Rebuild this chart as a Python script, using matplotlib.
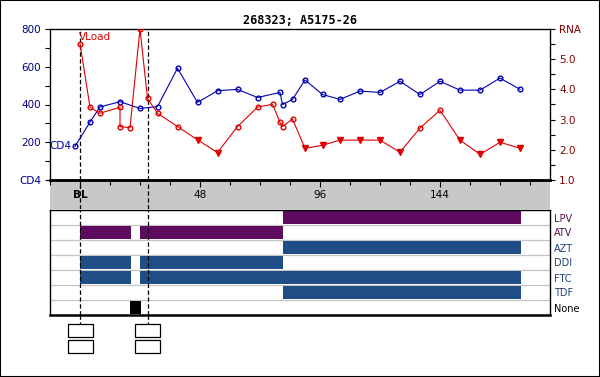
import matplotlib
matplotlib.use("Agg")
import matplotlib.pyplot as plt
from matplotlib.patches import Rectangle
from matplotlib.ticker import MultipleLocator, FixedLocator

plt.rcParams['font.family'] = ['DejaVu Sans']

title = "268323; A5175-26"

# CD4 counts (weeks, cells/uL)
cd4_weeks = [-2, 4, 8, 16, 24, 31, 39, 47, 55, 63, 71, 80, 81, 85, 90, 97, 104,
             112, 120, 128, 136, 144, 152, 160, 168, 176]
cd4_vals = [178, 307, 387, 415, 379, 389, 592, 411, 473, 480, 437, 464, 400, 427,
            530, 453, 427, 471, 464, 523, 453, 523, 476, 476, 540, 480]

# Viral load (log10 RNA)
rna_weeks = [0, 4, 8, 16, 16, 20, 24, 27, 31, 39, 47, 55, 63, 71, 77, 80, 81, 85,
             90, 97, 104, 112, 120, 128, 136, 144, 152, 160, 168, 176]
rna_vals = [5.51, 3.41, 3.21, 3.41, 2.77, 2.73, 6.0, 3.70, 3.21, 2.77, 2.33, 1.91,
            2.77, 3.41, 3.51, 2.91, 2.77, 3.02, 2.05, 2.15, 2.32, 2.32, 2.32, 1.92,
            2.72, 3.31, 2.32, 1.85, 2.25, 2.05]
rna_detect = [True, True, True, True, True, True, True, True, True, True, False, False,
              True, True, True, True, True, True, False, False, False, False, False, False,
              True, True, False, False, False, False]

x_tick_vals = [0, 48, 96, 144]
x_tick_labels = ["BL", "48", "96", "144"]
cd4_ticks = [0, 200, 400, 600, 800]
cd4_tick_labels = ["CD4", "200", "400", "600", "800"]
rna_ticks = [1, 2, 3, 4, 5, 6]
rna_tick_labels = ["1.0", "2.0", "3.0", "4.0", "5.0", "RNA"]

# Treatment periods (start week, end week)
drugs = ["LPV", "ATV", "AZT", "DDI", "FTC", "TDF", "None"]
lpv = [(81, 176.5)]
atv = [(0, 20.5), (24, 81)]
azt = [(81, 176.5)]
ddi = [(0, 20.5), (24, 81)]
ftc = [(0, 20.5), (24, 176.5)]
tdf = [(81, 176.5)]
none = [(20, 24.5)]
periods = [lpv, atv, azt, ddi, ftc, tdf, none]

PURPLE = "#5e0a5e"
BLUE = "#1f4e87"
drug_colors = [PURPLE, PURPLE, BLUE, BLUE, BLUE, BLUE, "black"]
label_colors = ["#5a1050", "#5a1050", "#1f3f78", "#1f3f78", "#1f3f78", "#1f3f78", "black"]

event_weeks = [0, 27]

W, H = 600, 377
XMIN, XMAX = -12, 188
CD4_C = "#0000b0"
RNA_C = "#e00000"


def rect(x0, y0, x1, y1):
    return [x0 / W, 1 - y1 / H, (x1 - x0) / W, (y1 - y0) / H]


fig = plt.figure(figsize=(6.0, 3.77), dpi=100)
fig.patches.append(Rectangle((0, 0), 1, 1, transform=fig.transFigure, fill=False,
                             edgecolor="black", lw=1.5))
fig.text(0.5, 1 - 20 / H, title, ha="center", va="center", fontsize=8.5,
         fontweight="bold", family="DejaVu Sans Mono")

dash = (0, (3.5, 2.0))

# gray band (added first so top axis ticks draw above)
axg = fig.add_axes(rect(50, 180, 550, 209))
axg.set_facecolor("#c8c8c8")
axg.set_xlim(XMIN, XMAX)
axg.set_ylim(0, 1)
for s in axg.spines.values():
    s.set_visible(False)
axg.set_xticks([])
axg.set_yticks([])
for xv, lab in zip(x_tick_vals, x_tick_labels):
    axg.text(xv, 0.5, lab, ha="center", va="center", fontsize=7.5,
             fontweight="bold" if lab == "BL" else "normal", color="black")
for ev in event_weeks:
    axg.axvline(ev, color="black", lw=0.9, linestyle=dash)

# main plot
ax = fig.add_axes(rect(50, 29, 550, 180))
ax.set_xlim(XMIN, XMAX)
ax.set_ylim(0, 800)
ax.plot(cd4_weeks, cd4_vals, color=CD4_C, lw=0.8, marker="o", ms=3.4, mfc="none",
        mec=CD4_C, mew=1.0, zorder=4)
ax.set_yticks(cd4_ticks)
ax.set_yticklabels(cd4_tick_labels)
ax.yaxis.set_minor_locator(MultipleLocator(100))
ax.tick_params(axis="y", which="both", colors="black", labelcolor="#000080",
               labelsize=7.5, length=3.5, width=0.8, pad=3)
ax.xaxis.set_major_locator(FixedLocator(x_tick_vals))
ax.xaxis.set_minor_locator(MultipleLocator(12))
ax.tick_params(axis="x", which="both", direction="out", length=3.5, width=0.8,
               labelbottom=False)
ax.tick_params(axis="x", which="major", length=5)
for s in ["left", "right", "top"]:
    ax.spines[s].set_linewidth(0.9)
ax.spines["bottom"].set_linewidth(1.8)
for ev in event_weeks:
    ax.axvline(ev, color="black", lw=0.9, linestyle=dash, zorder=1)
ax.annotate("CD4", (cd4_weeks[0], cd4_vals[0]), xytext=(-4, 0),
            textcoords="offset pixels", ha="right", va="center", fontsize=7.5,
            color=CD4_C)

ax2 = ax.twinx()
ax2.set_ylim(1, 6)
ax2.plot(rna_weeks, rna_vals, color=RNA_C, lw=0.8, zorder=3)
det_x = [w for w, d in zip(rna_weeks, rna_detect) if d]
det_y = [v for v, d in zip(rna_vals, rna_detect) if d]
und_x = [w for w, d in zip(rna_weeks, rna_detect) if not d]
und_y = [v for v, d in zip(rna_vals, rna_detect) if not d]
ax2.plot(det_x, det_y, linestyle="none", marker="o", ms=3.4, mfc="none", mec=RNA_C,
         mew=1.0, zorder=4)
ax2.plot(und_x, und_y, linestyle="none", marker="v", ms=4.2, mfc=RNA_C, mec=RNA_C,
         zorder=4)
ax2.set_yticks(rna_ticks)
ax2.set_yticklabels(rna_tick_labels)
ax2.yaxis.set_minor_locator(MultipleLocator(0.5))
ax2.tick_params(axis="y", which="both", colors="black", labelcolor="#800000",
                labelsize=7.5, length=3.5, width=0.8, pad=3)
ax2.spines["bottom"].set_linewidth(1.8)
ax2.annotate("VLoad", (rna_weeks[0], rna_vals[0]), xytext=(-1, 7),
             textcoords="offset pixels", ha="left", va="center", fontsize=7.5,
             color=RNA_C)

# treatment panel
axt = fig.add_axes(rect(50, 210, 550, 315))
axt.set_xlim(XMIN, XMAX)
axt.set_ylim(len(drugs), 0)
for i in range(1, len(drugs)):
    axt.axhline(i, color="#c4c4c4", lw=0.9, zorder=1)
for i, (per, col) in enumerate(zip(periods, drug_colors)):
    for (a, b) in per:
        axt.add_patch(Rectangle((a, i + 0.04), b - a, 0.92, facecolor=col,
                                edgecolor="none", zorder=2))
for ev in event_weeks:
    axt.axvline(ev, color="black", lw=0.9, linestyle=dash, zorder=3)
axt.set_xticks([])
axt.yaxis.tick_right()
axt.set_yticks([i + 0.5 for i in range(len(drugs))])
axt.set_yticklabels(drugs)
axt.tick_params(axis="y", length=0, pad=3, labelsize=7)
for t, c in zip(axt.get_yticklabels(), label_colors):
    t.set_color(c)
for s in ["left", "right", "top"]:
    axt.spines[s].set_linewidth(1.0)
axt.spines["bottom"].set_linewidth(1.8)

# event boxes below
axb = fig.add_axes(rect(50, 315, 550, 356))
axb.set_xlim(XMIN, XMAX)
axb.set_ylim(41, 0)
axb.axis("off")
for ev in event_weeks:
    axb.plot([ev, ev], [0, 9], color="black", lw=0.9, linestyle=dash)
    axb.add_patch(Rectangle((ev - 5, 9), 10, 13, facecolor="white",
                            edgecolor="black", lw=0.9))
    axb.add_patch(Rectangle((ev - 5, 25), 10, 13, facecolor="white",
                            edgecolor="black", lw=0.9))

fig.savefig("out.png", dpi=100)
